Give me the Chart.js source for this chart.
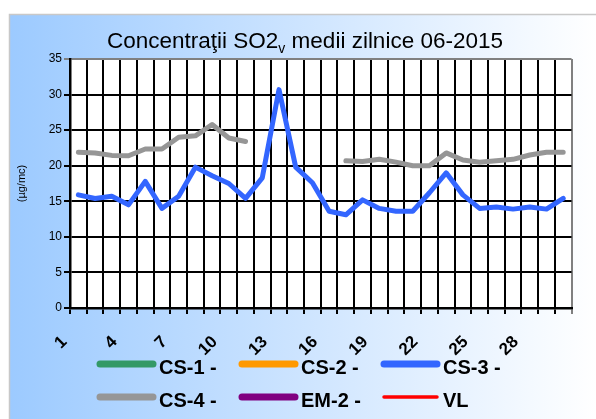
<!DOCTYPE html>
<html>
<head>
<meta charset="utf-8">
<script src="https://cdn.jsdelivr.net/npm/chart.js@4.4.0/dist/chart.umd.min.js"></script>
<style>
  html, body { margin: 0; padding: 0; background: #fff; }
  #wrap { width: 596px; height: 419px; }
</style>
</head>
<body>
<div id="wrap"><canvas id="chart" width="596" height="419"></canvas></div>
<script>
// days of June 2015
const days = ['1', '2', '3', '4', '5', '6', '7', '8', '9', '10',
  '11', '12', '13', '14', '15', '16', '17', '18', '19', '20',
  '21', '22', '23', '24', '25', '26', '27', '28', '29', '30'];

// daily SO2 means per station (µg/mc); stations without data are empty
const cs1 = [];
const cs2 = [];
const cs3 = [15.9, 15.4, 15.7, 14.5, 17.8, 14.0, 15.7, 19.8, 18.6, 17.5,
  15.4, 18.3, 30.7, 19.8, 17.6, 13.6, 13.1, 15.2, 14.0, 13.6,
  13.6, 16.2, 19.0, 15.9, 14.0, 14.2, 13.9, 14.2, 13.9, 15.4];
const cs4 = [21.9, 21.8, 21.45, 21.4, 22.35, 22.35, 24.0, 24.2, 25.8, 23.9,
  23.4, null, null, null, null, null, 20.7, 20.6, 20.9, 20.5,
  20.0, 20.0, 21.8, 20.8, 20.5, 20.7, 20.9, 21.5, 21.9, 21.9];
const em2 = [];
const vl = [];

const yTicks = [0, 5, 10, 15, 20, 25, 30, 35];

const FONT = '"Liberation Sans", Arial, sans-serif';
Chart.defaults.font.family = FONT;
Chart.defaults.color = '#000';

// background, plot area, title and the legend are drawn by hand
const decor = {
  id: 'decor',
  beforeDraw(chart) {
    const { ctx, width, height, chartArea: a } = chart;
    ctx.save();
    ctx.fillStyle = '#fff';
    ctx.fillRect(0, 0, width, height);
    const g = ctx.createLinearGradient(9, 0, width, 0);
    g.addColorStop(0, '#9ccaff');
    g.addColorStop(1, '#ffffff');
    ctx.fillStyle = g;
    ctx.fillRect(9, 14, width - 9, height - 14);
    ctx.strokeStyle = '#c8c8c8';
    ctx.lineWidth = 1.5;
    ctx.beginPath();
    ctx.moveTo(9.5, height);
    ctx.lineTo(9.5, 14.5);
    ctx.lineTo(width, 14.5);
    ctx.stroke();
    ctx.fillStyle = '#fff';
    ctx.fillRect(a.left, a.top, a.right - a.left, a.bottom - a.top);
    ctx.restore();
  },
  afterDraw(chart) {
    const ctx = chart.ctx;
    ctx.save();
    // title with subscript v
    const p1 = 'Concentraţii SO2', sub = 'v', p2 = ' medii zilnice 06-2015';
    const big = '22.5px ' + FONT, small = '14px ' + FONT;
    ctx.font = big;
    const w1 = ctx.measureText(p1).width, w2 = ctx.measureText(p2).width;
    ctx.font = small;
    const ws = ctx.measureText(sub).width;
    let x = 305 - (w1 + ws + w2) / 2;
    ctx.fillStyle = '#000';
    ctx.textBaseline = 'alphabetic';
    ctx.textAlign = 'left';
    ctx.font = big;
    ctx.fillText(p1, x, 48);
    ctx.font = small;
    ctx.fillText(sub, x + w1, 53);
    ctx.font = big;
    ctx.fillText(p2, x + w1 + ws, 48);

    // legend, 3 columns x 2 rows
    const colX = [97, 239, 381];
    const rowY = [364, 397];
    ctx.font = 'bold 20px ' + FONT;
    chart.data.datasets.forEach((ds, i) => {
      const lx = colX[i % 3], ly = rowY[Math.floor(i / 3)];
      ctx.strokeStyle = ds.borderColor;
      ctx.lineWidth = ds.label === 'VL' ? 3.5 : 7;
      ctx.lineCap = 'round';
      ctx.beginPath();
      ctx.moveTo(lx + 3, ly);
      ctx.lineTo(lx + 56, ly);
      ctx.stroke();
      ctx.fillText(ds.label, lx + 62, ly + 10);
    });
    ctx.restore();
  }
};

const mk = (label, data, color) => ({
  label, data, borderColor: color, backgroundColor: color,
  borderWidth: 5, spanGaps: false
});

new Chart(document.getElementById('chart'), {
  type: 'line',
  data: {
    labels: days,
    datasets: [
      mk('CS-1 -', cs1, '#339966'),
      mk('CS-2 -', cs2, '#ff9900'),
      mk('CS-3 -', cs3, '#3366ff'),
      mk('CS-4 -', cs4, '#969696'),
      mk('EM-2 -', em2, '#800080'),
      mk('VL', vl, '#ff0000')
    ]
  },
  options: {
    responsive: false,
    animation: false,
    layout: { padding: { left: 0, top: 59, right: 23, bottom: 0 } },
    plugins: {
      legend: { display: false },
      title: { display: false },
      tooltip: { enabled: false }
    },
    elements: {
      line: { tension: 0, borderCapStyle: 'round', borderJoinStyle: 'round' },
      point: { radius: 0 }
    },
    scales: {
      x: {
        offset: true,
        grid: {
          offset: true,
          color: c => c.index === undefined ? '#808080' : '#000',
          lineWidth: 2,
          tickLength: 6
        },
        border: { color: '#000', width: 2.5 },
        ticks: {
          autoSkip: false,
          minRotation: 45,
          maxRotation: 45,
          padding: 18,
          labelOffset: -14,
          font: { size: 17, weight: 'bold' },
          callback: (v, i) => (i % 3 === 0 ? days[i] : '')
        },
        afterFit: s => { s.height = 111; }
      },
      y: {
        min: 0,
        max: 35,
        afterBuildTicks: s => { s.ticks = yTicks.map(v => ({ value: v })); },
        grid: {
          color: c => (c.tick && c.tick.value === 35 ? '#808080' : '#000'),
          lineWidth: 2,
          tickLength: 6
        },
        border: { color: '#000', width: 2.5 },
        ticks: { padding: 2, font: { size: 12 } },
        title: {
          display: true,
          text: '(µg/mc)',
          font: { size: 11 },
          padding: { top: 15, bottom: 0 }
        },
        afterFit: s => { s.width = 70; }
      }
    }
  },
  plugins: [decor]
});
</script>
</body>
</html>
